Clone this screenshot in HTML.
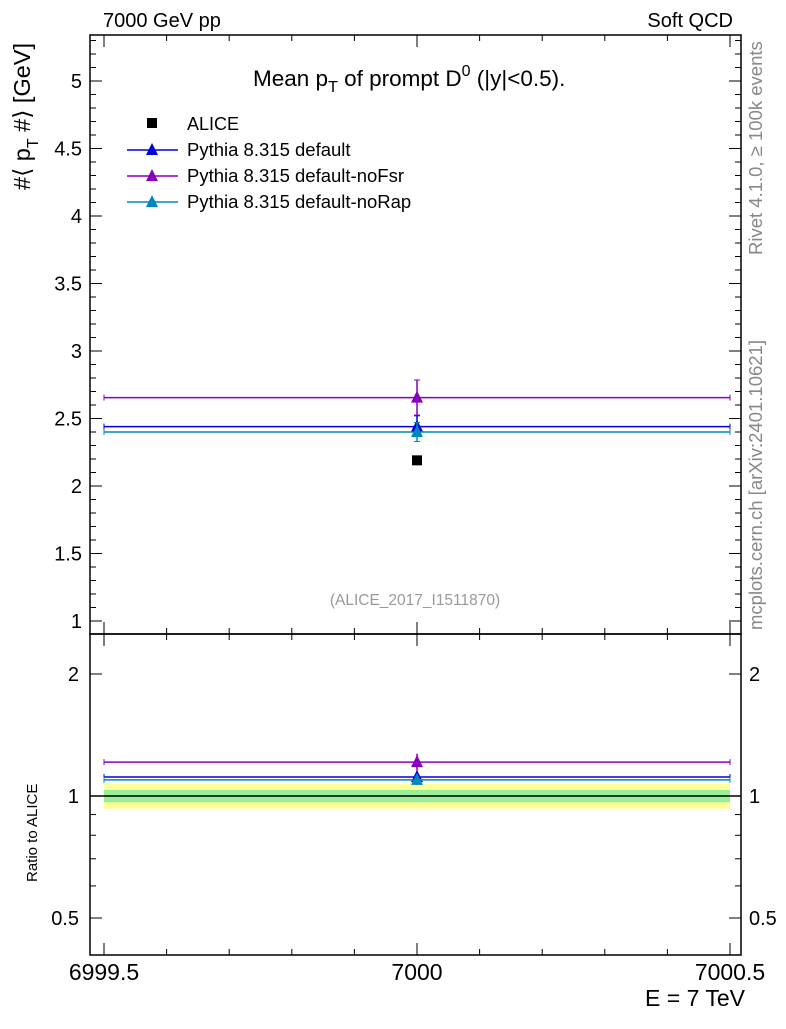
<!DOCTYPE html>
<html><head><meta charset="utf-8"><style>
body{margin:0;background:#fff;width:786px;height:1024px;overflow:hidden}
svg text{font-family:"Liberation Sans","DejaVu Sans",sans-serif}
</style></head><body>
<svg id="c" width="786" height="1024" xmlns="http://www.w3.org/2000/svg"></svg>
<script>
const seriesNames=["Pythia 8.315 default","Pythia 8.315 default-noFsr","Pythia 8.315 default-noRap"];
const seriesColors=["#0000dd","#8800bb","#0088bb"];
const seriesValues=[2.44,2.655,2.40];
const seriesErrLo=[0.07,0.13,0.07];
const seriesErrHi=[0.08,0.13,0.07];
const dataX=[7000];
const dataValues=[2.19];
const bandStat=[0.035];
const bandTot=[0.07];
const mainTicks=[1,1.5,2,2.5,3,3.5,4,4.5,5];
const ratioTicks=[0.5,1,2];
const xTicks=["6999.5","7000","7000.5"];
const NS="http://www.w3.org/2000/svg";
const svg=document.getElementById('c');
function el(t,a,p){const e=document.createElementNS(NS,t);for(const k in a)e.setAttribute(k,a[k]);(p||svg).appendChild(e);return e;}
function tx(x,y,s,a,name){const e=el('text',Object.assign({x:x,y:y},a));e.textContent=s;return e;}
const L=90,R=741,T=35,M=634,B=955;
const xs=v=>104+(v-6999.5)*626;
const ym=v=>621-(v-1)*135;
const yr=v=>796-122*Math.log2(v);
let r=el('rect',{x:xs(6999.5),y:yr(1+bandTot[0]),width:626,height:yr(1-bandTot[0])-yr(1+bandTot[0]),fill:'#ffff99'});

r=el('rect',{x:xs(6999.5),y:yr(1+bandStat[0]),width:626,height:yr(1-bandStat[0])-yr(1+bandStat[0]),fill:'#99ee99'});

el('line',{x1:L,x2:R,y1:yr(1),y2:yr(1),stroke:'#000','stroke-width':1.5});
let f=el('rect',{x:L,y:T,width:R-L,height:M-T,fill:'none',stroke:'#000','stroke-width':1.5});

f=el('rect',{x:L,y:M,width:R-L,height:B-M,fill:'none',stroke:'#000','stroke-width':1.5});

for(let v=1;v<=5.3;v+=0.1){const y=ym(v);if(y<T)break;const maj=Math.abs(v*2-Math.round(v*2))<1e-6;
el('line',{x1:L,x2:L+(maj?12:6),y1:y,y2:y,stroke:'#000'});el('line',{x1:R,x2:R-(maj?12:6),y1:y,y2:y,stroke:'#000'});}
mainTicks.forEach(v=>tx(82,ym(v)+7,String(v),{'font-size':20,'text-anchor':'end'},'y-tick-label'));
[0.5,0.6,0.7,0.8,0.9,1,2].forEach(v=>{const y=yr(v);const maj=ratioTicks.includes(v);
el('line',{x1:L,x2:L+(maj?12:6),y1:y,y2:y,stroke:'#000'});el('line',{x1:R,x2:R-(maj?12:6),y1:y,y2:y,stroke:'#000'});});
ratioTicks.forEach(v=>{tx(79,yr(v)+7,String(v),{'font-size':20,'text-anchor':'end'},'ratio-tick-label');tx(749,yr(v)+7,String(v),{'font-size':20},'ratio-tick-label-right');});
for(let i=0;i<=10;i++){const x=xs(6999.5+i*0.1);const maj=i%5==0;
[[M,-1],[B,-1],[T,1],[M,1]].forEach(([y0,d])=>el('line',{x1:x,x2:x,y1:y0,y2:y0+d*(maj?12:6),stroke:'#000'}));}
xTicks.forEach(s=>tx(xs(parseFloat(s)),980,s,{'font-size':23,'text-anchor':'middle'},'x-tick-label'));
function tri(x,y,c,p,name){const t=el('polygon',{points:`${x-6},${y+5} ${x+6},${y+5} ${x},${y-7}`,fill:c},p);}
seriesValues.forEach((v,i)=>{const c=seriesColors[i];const g=el('g',{});
const y=ym(v);el('line',{x1:xs(6999.5),x2:xs(7000.5),y1:y,y2:y,stroke:c,'stroke-width':1.5},g);
[xs(6999.5),xs(7000.5)].forEach(x=>el('line',{x1:x,x2:x,y1:y-3,y2:y+3,stroke:c},g));
const x=xs(dataX[0]);el('line',{x1:x,x2:x,y1:ym(v+seriesErrHi[i]),y2:ym(v-seriesErrLo[i]),stroke:c,'stroke-width':1.5},g);
[v+seriesErrHi[i],v-seriesErrLo[i]].forEach(e=>el('line',{x1:x-3,x2:x+3,y1:ym(e),y2:ym(e),stroke:c},g));
tri(x,y,c,g,'marker-main');
const rv=v/dataValues[0];const yy=yr(rv);
el('line',{x1:xs(6999.5),x2:xs(7000.5),y1:yy,y2:yy,stroke:c,'stroke-width':1.5},g);
[xs(6999.5),xs(7000.5)].forEach(x=>el('line',{x1:x,x2:x,y1:yy-3,y2:yy+3,stroke:c},g));
el('line',{x1:x,x2:x,y1:yr((v+seriesErrHi[i])/dataValues[0]),y2:yr((v-seriesErrLo[i])/dataValues[0]),stroke:c,'stroke-width':1.5},g);
tri(x,yy,c,g,'marker-ratio');
});
let d=el('rect',{x:xs(dataX[0])-5,y:ym(dataValues[0])-5,width:10,height:10,fill:'#000'});

let s=el('rect',{x:147,y:118,width:10,height:10,fill:'#000'});
tx(187,130,'ALICE',{'font-size':18},'legend-entry');
seriesNames.forEach((n,i)=>{const y=150+i*26;const c=seriesColors[i];
const g=el('g',{});
el('line',{x1:127,x2:178,y1:y,y2:y,stroke:c,'stroke-width':1.5},g);tri(152,y,c,g,'legend-marker');
tx(187,y+6,n,{'font-size':18.5},'legend-label');});
tx(103,27,'7000 GeV pp',{'font-size':20},'header-left');
tx(733,27,'Soft QCD',{'font-size':20,'text-anchor':'end'},'header-right');
const t=tx(253,86,'',{'font-size':22.5},'plot-title');
t.innerHTML='Mean p<tspan dy="6" font-size="16">T</tspan><tspan dy="-6"> of prompt D</tspan><tspan dy="-10" font-size="16">0</tspan><tspan dy="10"> (|y|&lt;0.5).</tspan>';
const yl=tx(0,0,'',{'font-size':23.5,transform:'translate(30,190) rotate(-90)'},'y-axis-title');
yl.innerHTML='#⟨ p<tspan dy="8" font-size="16">T</tspan><tspan dy="-8"> #⟩ [GeV]</tspan>';
tx(0,0,'Ratio to ALICE',{'font-size':15,transform:'translate(37,882) rotate(-90)'},'ratio-axis-title');
tx(745,1006,'E = 7 TeV',{'font-size':23,'text-anchor':'end'},'x-axis-title');
tx(415,605,'(ALICE_2017_I1511870)',{'font-size':15.5,fill:'#999','text-anchor':'middle'},'analysis-id');
tx(0,0,'Rivet 4.1.0, ≥ 100k events',{'font-size':18.5,fill:'#888',transform:'translate(762,255) rotate(-90)'},'rivet-label');
tx(0,0,'mcplots.cern.ch [arXiv:2401.10621]',{'font-size':18.5,fill:'#888',transform:'translate(762,630) rotate(-90)'},'mcplots-label');
</script>
</body></html>
